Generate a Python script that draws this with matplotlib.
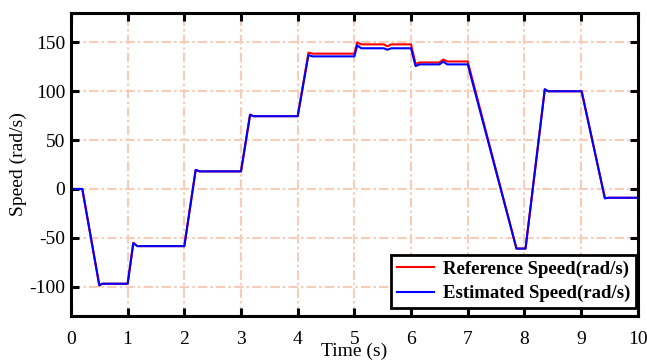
import matplotlib
matplotlib.use('Agg')
import matplotlib.pyplot as plt

plt.rcParams['font.family'] = ['Liberation Serif', 'DejaVu Serif']
plt.rcParams['axes.unicode_minus'] = False

# Reference speed (rad/s)
t_ref = [0, 0.2, 0.5, 0.55, 1.0, 1.1, 1.17, 2.0, 2.2, 2.27, 3.0, 3.16, 3.22, 4.0, 4.19, 4.26,
         5.0, 5.05, 5.12, 5.52, 5.58, 5.65, 6.0, 6.08, 6.15, 6.5, 6.57, 6.64, 7.0, 7.86, 8.02,
         8.36, 8.42, 9.01, 9.42, 9.5, 10]
w_ref = [0, 0, -99, -97, -97, -55, -58.5, -58.5, 19.5, 18, 18, 76, 74.5, 74.5, 139.5, 138.5,
         138.5, 150, 148, 148, 146, 148, 148, 128, 129.5, 129.5, 132.5, 130.5, 130.5, -61, -61,
         102, 100, 100, -9.5, -9, -9]

# Estimated speed (rad/s)
t_est = [0, 0.2, 0.5, 0.55, 1.0, 1.1, 1.17, 2.0, 2.2, 2.27, 3.0, 3.16, 3.22, 4.0, 4.19, 4.26,
         5.0, 5.05, 5.12, 5.52, 5.58, 5.65, 6.0, 6.08, 6.15, 6.5, 6.57, 6.64, 7.0, 7.86, 8.02,
         8.36, 8.42, 9.01, 9.42, 9.5, 10]
w_est = [0, 0, -98.5, -97, -97, -55.5, -58.5, -58.5, 19.5, 18, 18, 76, 74.5, 74.5, 137, 135.7,
         135.7, 147, 144, 144, 142.5, 144, 144, 125.8, 127.5, 127.5, 130.3, 127.5, 127.5, -61, -61,
         102, 100, 100, -9.5, -9, -9]

xticks = list(range(0, 11))
yticks = [-100, -50, 0, 50, 100, 150]

fig = plt.figure(figsize=(6.47, 3.61), dpi=100)
ax = fig.add_axes([0.1097, 0.1247, 0.876, 0.839])

ax.plot(t_ref, w_ref, color='red', lw=1.5, label='Reference Speed(rad/s)')
ax.plot(t_est, w_est, color='blue', lw=1.5, label='Estimated Speed(rad/s)')

ax.set_xlim(0, 10)
ax.set_ylim(-130, 180)
ax.set_xticks(xticks)
ax.set_yticks(yticks)
ax.grid(True, color='#f5cdb9', linestyle=(0, (4.5, 1.5, 1.2, 1.5)), lw=1.5)
ax.set_axisbelow(True)

for s in ax.spines.values():
    s.set_linewidth(2.2)
ax.tick_params(direction='in', length=6, width=2.2, labelsize=14, top=True, right=True,
               pad=11)
ax.tick_params(axis='y', pad=4)

ax.set_xlabel('Time (s)', fontsize=14, labelpad=-4)
ax.set_ylabel('Speed (rad/s)', fontsize=14, labelpad=2)

leg = ax.legend(loc='lower right', bbox_to_anchor=(0.9965, 0.026), borderaxespad=0,
                prop={'weight': 'bold', 'size': 13.5}, fancybox=False,
                framealpha=1, edgecolor='black', handlelength=2.0,
                handletextpad=0.45, borderpad=0.3, labelspacing=0.4)
leg.get_frame().set_linewidth(2)

fig.savefig('out.png', dpi=100)
